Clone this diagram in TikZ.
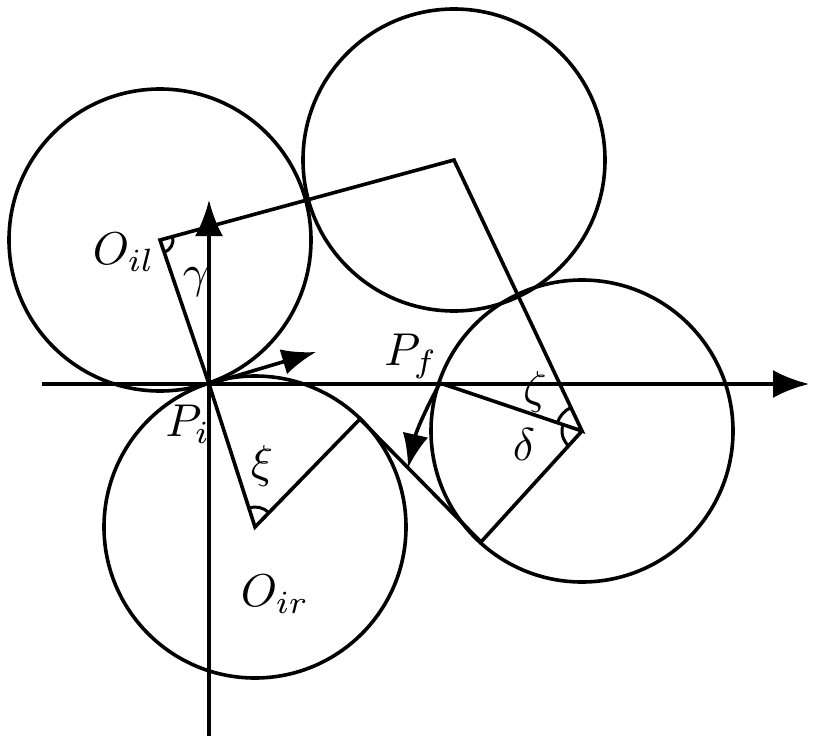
\documentclass[tikz,border=0pt]{standalone}
\usetikzlibrary{arrows.meta,angles}
\begin{document}
\begin{tikzpicture}[x=1pt,y=-1pt,line width=3.6pt,
  big/.style={-{Latex[length=36pt,width=28pt]}},
  small/.style={-{Latex[length=34pt,width=26pt]}},
  lab/.style={scale=4.6,inner sep=0pt},
  ang/.style={draw,line width=3pt}]
\useasboundingbox (0,0) rectangle (813,738);
\coordinate (Oil) at (160,240);
\coordinate (T) at (454,160);
\coordinate (R) at (582,431);
\coordinate (Oir) at (255,527);
\coordinate (Pi) at (209,384);
\coordinate (Pf) at (440,383);
\coordinate (F) at (481,542);
\coordinate (E) at (360,419);
\coordinate (xl) at (42,384);
\coordinate (xr) at (809,384);
\coordinate (yb) at (209,736);
\coordinate (yt) at (209,200);
\coordinate (a1) at (316,352);
\coordinate (a2) at (408,468);
\foreach \c in {Oil,T,R,Oir} \draw (\c) circle (151);
\draw[big] (xl) -- (xr);
\draw[big] (yb) -- (yt);
\draw (Pi) -- (Oil) -- (T) -- (R) -- (Pf);
\draw (R) -- (F) -- (E) -- (Oir) -- (Pi);
\draw[small] (Pi) -- (a1);
\draw[small] (Pf) to[bend right=8] (a2);
\pic[ang,angle radius=13pt] {angle = Pi--Oil--T};
\pic[ang,angle radius=20pt] {angle = E--Oir--Pi};
\pic[ang,angle radius=26pt] {angle = T--R--Pf};
\pic[ang,angle radius=20pt] {angle = Pf--R--F};
\node[lab] (l1) at (124,252) {$O_{il}$};
\node[lab] (l2) at (196,282) {$\gamma$};
\node[lab] (l3) at (188,424) {$P_i$};
\node[lab] (l4) at (262,466) {$\xi$};
\node[lab] (l5) at (275,594) {$O_{ir}$};
\node[lab] (l6) at (411,356) {$P_f$};
\node[lab] (l7) at (535,392) {$\zeta$};
\node[lab] (l8) at (524,445) {$\delta$};
\end{tikzpicture}
\end{document}
